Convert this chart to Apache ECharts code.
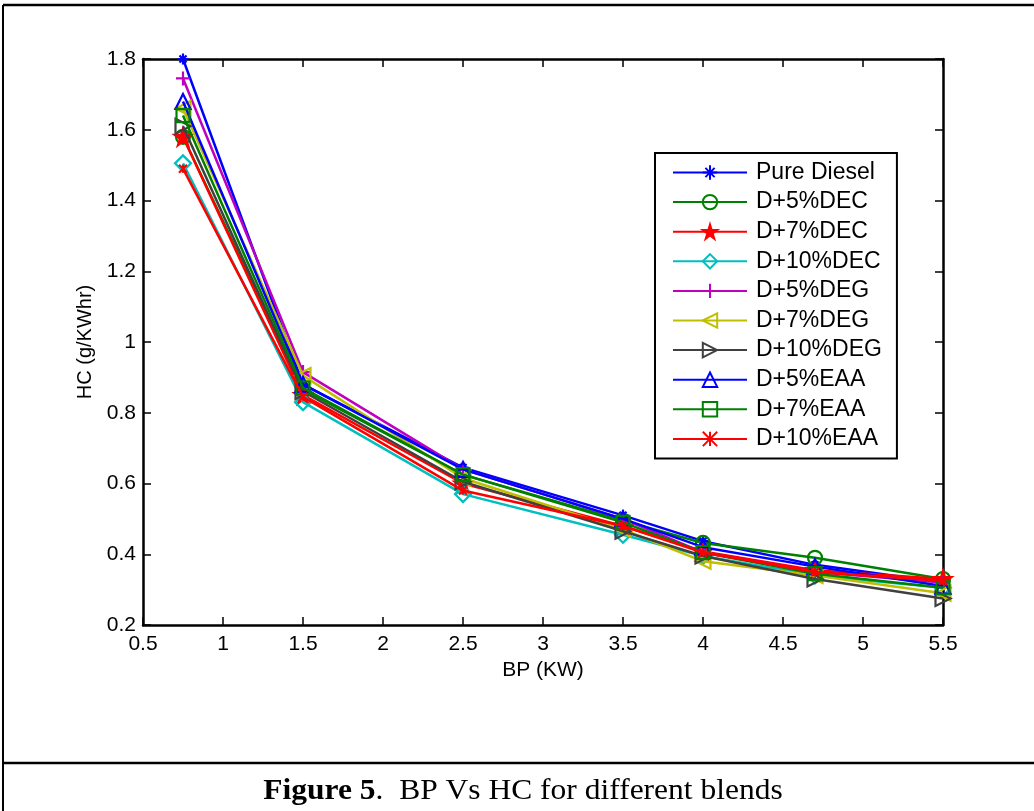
<!DOCTYPE html>
<html>
<head>
<meta charset="utf-8">
<script src="https://cdn.jsdelivr.net/npm/echarts@6/dist/echarts.min.js"></script>
<style>
html,body{margin:0;padding:0;background:#fff;}
#chart{width:1034px;height:811px;}
</style>
</head>
<body>
<div id="chart"></div>
<script>
// ---- data ----
const bp = [0.75, 1.5, 2.5, 3.5, 4, 4.7, 5.5];
const seriesNames = ['Pure Diesel','D+5%DEC','D+7%DEC','D+10%DEC','D+5%DEG','D+7%DEG','D+10%DEG','D+5%EAA','D+7%EAA','D+10%EAA'];
const pureDiesel = [1.80, 0.88, 0.645, 0.51, 0.437, 0.37, 0.32];
const d5DEC  = [1.58, 0.865, 0.625, 0.495, 0.432, 0.39, 0.33];
const d7DEC  = [1.58, 0.85, 0.60, 0.48, 0.408, 0.355, 0.33];
const d10DEC = [1.505, 0.83, 0.57, 0.455, 0.395, 0.34, 0.305];
const d5DEG  = [1.745, 0.915, 0.64, 0.50, 0.405, 0.35, 0.32];
const d7DEG  = [1.66, 0.905, 0.615, 0.47, 0.38, 0.34, 0.29];
const d10DEG = [1.61, 0.86, 0.605, 0.465, 0.395, 0.33, 0.275];
const d5EAA  = [1.68, 0.88, 0.64, 0.50, 0.42, 0.365, 0.31];
const d7EAA  = [1.64, 0.87, 0.625, 0.49, 0.405, 0.345, 0.305];
const d10EAA = [1.49, 0.845, 0.58, 0.48, 0.405, 0.35, 0.325];
const allValues = [pureDiesel, d5DEC, d7DEC, d10DEC, d5DEG, d7DEG, d10DEG, d5EAA, d7EAA, d10EAA];
const xAxisTitle = 'BP (KW)';
const yAxisTitle = 'HC (g/KWhr)';
const captionBold = 'Figure 5';
const captionRest = '.  BP Vs HC for different blends';

// ---- styles ----
const colors = ['#0000FF','#008000','#FF0000','#00BFBF','#BF00BF','#BFBF00','#404040','#0000FF','#008000','#FF0000'];
const clear = 'rgba(0,0,0,0)';
const markers = [
  {symbol:'path://M50,0L50,100M0,50L100,50M18,18L82,82M82,18L18,82', size:11, fill:clear},
  {symbol:'circle', size:14, fill:clear},
  {symbol:'path://M50,0L61,35L98,35L68,57L79,91L50,70L21,91L32,57L2,35L39,35Z', size:17, fill:'#FF0000'},
  {symbol:'diamond', size:16, fill:clear},
  {symbol:'path://M50,0L50,100M0,50L100,50', size:14, fill:clear},
  {symbol:'path://M0,50L100,0L100,100Z', size:15, fill:clear},
  {symbol:'path://M100,50L0,0L0,100Z', size:15, fill:clear},
  {symbol:'triangle', size:15, fill:clear},
  {symbol:'rect', size:13, fill:clear},
  {symbol:'path://M0,0L100,100M100,0L0,100M50,0L50,100', size:8, fill:clear}
];

const series = seriesNames.map((name, i) => ({
  name: name,
  type: 'line',
  data: bp.map((x, j) => [x, allValues[i][j]]),
  symbol: markers[i].symbol,
  symbolSize: markers[i].size,
  showAllSymbol: true,
  lineStyle: {color: colors[i], width: 2.5},
  itemStyle: {color: markers[i].fill, borderColor: colors[i], borderWidth: 2.2},
  emphasis: {disabled: true},
  animation: false,
  z: 2 + i
}));

const font = 'Arial, "Liberation Sans", sans-serif';
const serif = '"Liberation Serif", "Times New Roman", serif';
const chart = echarts.init(document.getElementById('chart'), null, {renderer:'canvas'});
chart.setOption({
  backgroundColor: '#fff',
  animation: false,
  grid: {left: 143, right: 91, top: 59, bottom: 186, containLabel: false},
  xAxis: [{
    type: 'value', min: 0.5, max: 5.5, interval: 0.5,
    name: xAxisTitle, nameLocation: 'middle', nameGap: 35,
    nameTextStyle: {fontFamily: font, fontSize: 21, color: '#000'},
    axisLine: {show: true, onZero: false, lineStyle: {color: '#000', width: 2.5}},
    axisTick: {show: true, inside: true, length: 8, lineStyle: {color: '#000', width: 1.5}},
    axisLabel: {fontFamily: font, fontSize: 21, color: '#000', margin: 9},
    splitLine: {show: false}
  }, {
    type: 'value', min: 0.5, max: 5.5, interval: 0.5, position: 'top',
    axisLine: {show: true, onZero: false, lineStyle: {color: '#000', width: 2.5}},
    axisTick: {show: true, inside: true, length: 8, lineStyle: {color: '#000', width: 1.5}},
    axisLabel: {show: false}, splitLine: {show: false}
  }],
  yAxis: [{
    type: 'value', min: 0.2, max: 1.8, interval: 0.2,
    name: yAxisTitle, nameLocation: 'middle', nameGap: 47, nameRotate: 90,
    nameTextStyle: {fontFamily: font, fontSize: 20, color: '#000'},
    axisLine: {show: true, onZero: false, lineStyle: {color: '#000', width: 2.5}},
    axisTick: {show: true, inside: true, length: 8, lineStyle: {color: '#000', width: 1.5}},
    axisLabel: {fontFamily: font, fontSize: 21, color: '#000', margin: 7,
      formatter: v => (Math.round(v*10)/10).toString()},
    splitLine: {show: false}
  }, {
    type: 'value', min: 0.2, max: 1.8, interval: 0.2, position: 'right',
    axisLine: {show: true, onZero: false, lineStyle: {color: '#000', width: 2.5}},
    axisTick: {show: true, inside: true, length: 8, lineStyle: {color: '#000', width: 1.5}},
    axisLabel: {show: false}, splitLine: {show: false}
  }],
  legend: {
    orient: 'vertical',
    left: 655, top: 153,
    data: seriesNames,
    itemWidth: 74, itemHeight: 18, itemGap: 6.6,
    padding: [8, 15, 8, 17],
    borderColor: '#000', borderWidth: 2,
    backgroundColor: '#fff',
    textStyle: {fontFamily: font, fontSize: 23, lineHeight: 23, color: '#000', padding: [0,0,0,4]},
    selectedMode: false
  },
  graphic: [
    {type: 'line', shape: {x1: 3, y1: 5, x2: 1034, y2: 5}, style: {stroke: '#000', lineWidth: 2.5}},
    {type: 'line', shape: {x1: 3, y1: 5, x2: 3, y2: 811}, style: {stroke: '#000', lineWidth: 2}},
    {type: 'line', shape: {x1: 3, y1: 763, x2: 1034, y2: 763}, style: {stroke: '#000', lineWidth: 2.5}},
    {type: 'text', x: 523, y: 791, scaleX: 1.05,
      style: {
        text: '{b|' + captionBold + '}' + captionRest,
        align: 'center', verticalAlign: 'middle',
        textAlign: 'center', textVerticalAlign: 'middle',
        font: '30px ' + serif,
        fill: '#000',
        rich: {b: {fontWeight: 'bold', fontSize: 30, fontFamily: serif}}
      }}
  ],
  series: series
});
</script>
</body>
</html>
